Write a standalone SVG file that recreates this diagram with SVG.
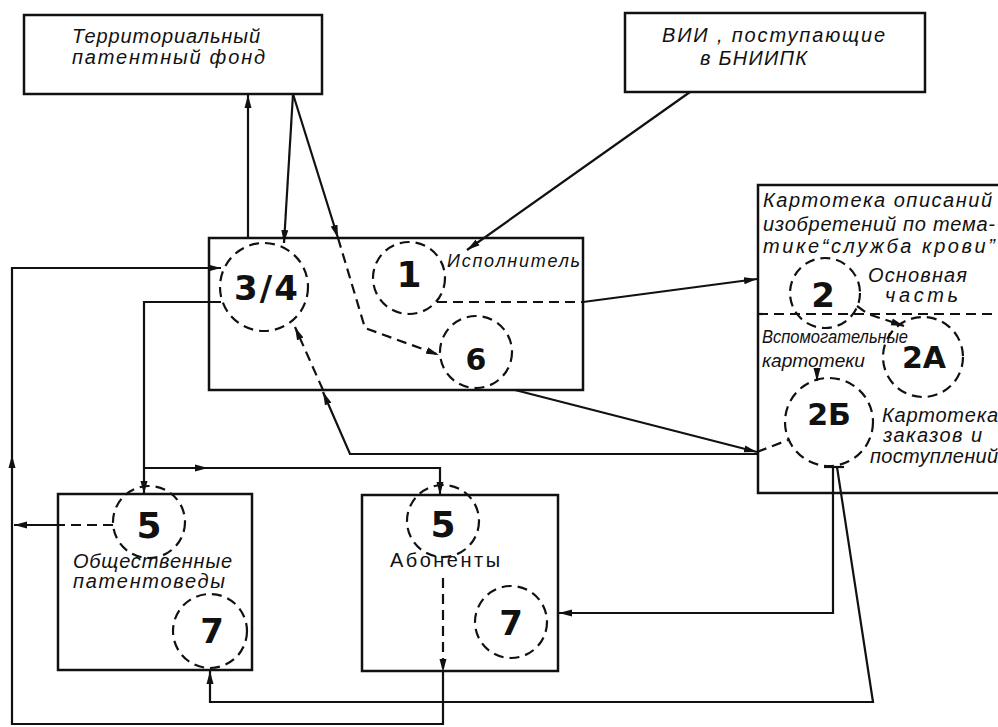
<svg xmlns="http://www.w3.org/2000/svg" width="998" height="727" viewBox="0 0 998 727">
<defs>
<style>
.box{fill:none;stroke:#111;stroke-width:2.5}
.ln{fill:none;stroke:#111;stroke-width:2.2}
.ds{fill:none;stroke:#111;stroke-width:2.2;stroke-dasharray:10 6}
.cir{fill:none;stroke:#111;stroke-width:2.2;stroke-dasharray:10 6}
.t{font-family:"Liberation Sans",Arial,sans-serif;font-style:italic;font-size:20px;fill:#111}
.n{font-family:"DejaVu Sans","Liberation Sans",sans-serif;font-weight:bold;fill:#111;text-anchor:middle}
</style>
<marker id="ah" viewBox="0 0 13 8" refX="13" refY="4" markerWidth="13" markerHeight="8" markerUnits="userSpaceOnUse" orient="auto"><path d="M0,0.5 L13,4 L0,7.5 z" fill="#111"/></marker>
</defs>
<rect width="998" height="727" fill="#fff"/>

<g id="territorial">
<rect class="box" x="24" y="15" width="298" height="79"/>
<text class="t" x="72" y="43" textLength="188">Территориальный</text>
<text class="t" x="72" y="64" textLength="193">патентный фонд</text>
</g>

<g id="vii">
<rect class="box" x="625" y="13" width="300" height="79"/>
<text class="t" x="662" y="42" textLength="223">ВИИ , поступающие</text>
<text class="t" x="700" y="65" textLength="107">в БНИИПК</text>
</g>

<g id="ispolnitel">
<rect class="box" x="209" y="238" width="374" height="152"/>
<text class="t" x="447" y="267" textLength="133" style="font-size:18px">Исполнитель</text>
<g id="c34"><circle class="cir" cx="264" cy="287" r="44"/><text class="n" x="266" y="300" style="font-size:34px" textLength="64">3/4</text></g>
<g id="c1"><circle class="cir" cx="409" cy="278" r="36"/><text class="n" x="409" y="287" style="font-size:36px">1</text></g>
<g id="c6"><circle class="cir" cx="476" cy="352" r="36"/><text class="n" x="476" y="370" style="font-size:30px">6</text></g>
</g>

<g id="kartoteka">
<path class="box" d="M1005,185 H758 V493 H1005"/>
<path class="ds" d="M758,314 H998"/>
<text class="t" x="763" y="207" textLength="229">Картотека описаний</text>
<text class="t" x="763" y="231" textLength="232">изобретений по тема-</text>
<text class="t" x="763" y="253" textLength="232">тике“служба крови”</text>
<text class="t" x="868" y="282" textLength="99">Основная</text>
<text class="t" x="885" y="302" textLength="73">часть</text>
<text class="t" x="762" y="343" textLength="146" lengthAdjust="spacingAndGlyphs" style="font-size:18px">Вспомогательные</text>
<text class="t" x="762" y="367" textLength="103" lengthAdjust="spacingAndGlyphs" style="font-size:18px">картотеки</text>
<text class="t" x="882" y="422" textLength="116">Картотека</text>
<text class="t" x="883" y="442" textLength="99">заказов и</text>
<text class="t" x="870" y="463" textLength="128">поступлений</text>
<g id="c2"><circle class="cir" cx="825" cy="293" r="35"/><text class="n" x="823" y="307" style="font-size:34px">2</text></g>
<g id="c2a"><circle class="cir" cx="923" cy="357" r="40"/><text class="n" x="924" y="368" style="font-size:30px">2А</text></g>
<g id="c2b"><circle class="cir" cx="829" cy="422" r="44"/><text class="n" x="829" y="425" style="font-size:30px">2Б</text></g>
</g>

<g id="obshchestvennye">
<rect class="box" x="58" y="494" width="194" height="176"/>
<text class="t" x="73" y="568" textLength="159">Общественные</text>
<text class="t" x="73" y="588" textLength="152">патентоведы</text>
<g id="c5l"><circle class="cir" cx="149" cy="522" r="36"/><text class="n" x="149" y="538" style="font-size:36px">5</text></g>
<g id="c7l"><circle class="cir" cx="210" cy="631" r="37"/><text class="n" x="212" y="643" style="font-size:34px">7</text></g>
</g>

<g id="abonenty">
<rect class="box" x="362" y="495" width="196" height="176"/>
<text class="t" x="390" y="567" textLength="110" style="font-style:normal">Абоненты</text>
<g id="c5m"><circle class="cir" cx="443" cy="521" r="36"/><text class="n" x="443" y="537" style="font-size:36px">5</text></g>
<g id="c7m"><circle class="cir" cx="511" cy="622" r="36"/><text class="n" x="511" y="635" style="font-size:34px">7</text></g>
</g>

<g id="connectors">
<path class="ln" d="M248,238 V95" marker-end="url(#ah)"/>
<path class="ln" d="M293,94 L284,243" marker-end="url(#ah)"/>
<path class="ln" d="M293,94 L338,238" marker-end="url(#ah)"/>
<path class="ds" d="M338,238 L365,328 L439,355" marker-end="url(#ah)"/>
<path class="ln" d="M690,92 L467,250" marker-end="url(#ah)"/>
<path class="ds" d="M437,302 H583"/>
<path class="ln" d="M583,302 L757,279" marker-end="url(#ah)"/>
<path class="ln" d="M515,390 L757,452" marker-end="url(#ah)"/>
<path class="ds" d="M757,452 L788,440"/>
<path class="ln" d="M757,454 H350 L323,392" marker-end="url(#ah)"/>
<path class="ds" d="M323,390 L295,327" marker-end="url(#ah)"/>
<path class="ds" d="M443,578 V672" marker-end="url(#ah)"/>
<path class="ln" d="M443,672 V724 H12 V455" marker-end="url(#ah)"/>
<path class="ln" d="M12,455 V268 H221" marker-end="url(#ah)"/>
<path class="ds" d="M113,525 H58"/>
<path class="ln" d="M58,525 H14" marker-end="url(#ah)"/>
<path class="ln" d="M221,302 H144 V468 V494" marker-end="url(#ah)"/>
<path class="ln" d="M144,468 H208" marker-end="url(#ah)"/>
<path class="ln" d="M208,468 H440 V495" marker-end="url(#ah)"/>
<path class="ln" d="M824,467 H844"/>
<path class="ln" d="M833,467 V613 H559" marker-end="url(#ah)"/>
<path class="ln" d="M837,467 L873,702 H210 V671" marker-end="url(#ah)"/>
<path class="ds" d="M857,306 L868,314 L904,326" marker-end="url(#ah)"/>
<path class="ln" d="M817,368 V381" marker-end="url(#ah)"/>
</g>
</svg>
